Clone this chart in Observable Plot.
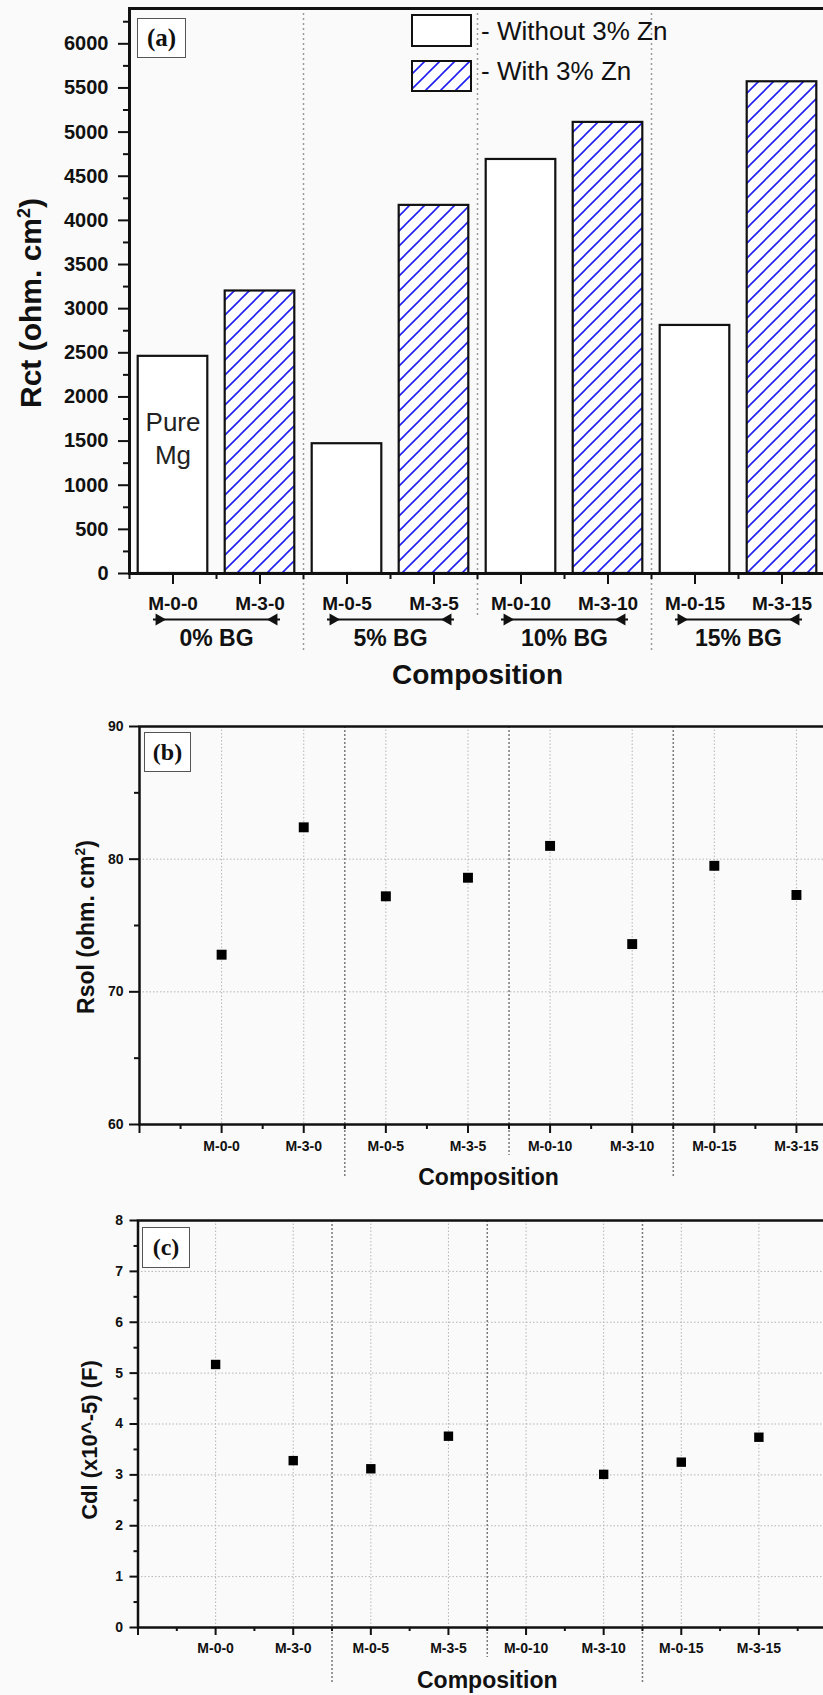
<!DOCTYPE html>
<html><head><meta charset="utf-8">
<script src="https://cdn.jsdelivr.net/npm/d3@7"></script>
<script src="https://cdn.jsdelivr.net/npm/@observablehq/plot@0.6"></script>
<style>
html,body{margin:0;padding:0;background:#fafafa;overflow:hidden;width:823px;height:1695px;}
#root{position:relative;width:823px;height:1695px;overflow:hidden;}
.panel{position:absolute;left:0;}
.ylab{position:absolute;font-family:"Liberation Sans",Arial,sans-serif;font-weight:bold;white-space:nowrap;transform:translate(-50%,-50%) rotate(-90deg);color:#111;}
.ylab sup{font-size:60%;}
.tag{position:absolute;border:1.5px solid #555;background:#fff;font-family:"Liberation Serif","Times New Roman",serif;font-weight:bold;display:flex;align-items:center;justify-content:center;box-sizing:border-box;color:#111;}
.legtxt{position:absolute;font-family:"Liberation Sans",Arial,sans-serif;font-size:26px;white-space:nowrap;transform:translateY(-50%);color:#111;}
.legbox{position:absolute;}
</style>
</head><body>
<svg width="0" height="0" style="position:absolute">
  <defs>
    <pattern id="hatchA" patternUnits="userSpaceOnUse" width="15" height="15">
      <rect width="15" height="15" fill="white"/>
      <path d="M-2,2 L2,-2 M0,15 L15,0 M13,17 L17,13" stroke="#1f1ff0" stroke-width="1.6"/>
    </pattern>
  </defs>
</svg>
<div id="root"></div>
<script>
// ---------------- data ----------------
const compositions = ["M-0-0","M-3-0","M-0-5","M-3-5","M-0-10","M-3-10","M-0-15","M-3-15"];
const zinc = ["Without","With","Without","With","Without","With","Without","With"];
const rct = [2460, 3200, 1470, 4170, 4690, 5110, 2810, 5570];
const rsol = [72.8, 82.4, 77.2, 78.6, 81.0, 73.6, 79.5, 77.3];
const cdl = [5.17, 3.28, 3.12, 3.76, null, 3.01, 3.25, 3.74];
const groups = ["0% BG","5% BG","10% BG","15% BG"];
const rctTicks = [0,500,1000,1500,2000,2500,3000,3500,4000,4500,5000,5500,6000];
const rctMinor = [250,750,1250,1750,2250,2750,3250,3750,4250,4750,5250,5750,6250];
const rsolTicks = [60,70,80,90];
const rsolMinor = [65,75,85];
const cdlTicks = [0,1,2,3,4,5,6,7,8];
const cdlMinor = [0.5,1.5,2.5,3.5,4.5,5.5,6.5,7.5];
const annotations = [{comp:"M-0-0", text:"Pure\nMg", rct:1550}];

// ---------------- derived tables ----------------
const rows = compositions.map((c,i)=>({pos:i+1, name:c, zn:zinc[i], rct:rct[i], rsol:rsol[i], cdl:cdl[i]}));
const positions = rows.map(d=>d.pos);
const halfPos = [0, ...positions].map(p=>p+0.5);
const groupRows = groups.map((g,i)=>({label:g, center:2*i+1.5}));
const outerBounds = [groupRows[0].center+1, groupRows[2].center+1];
const innerBounds = [groupRows[1].center+1];
const annRows = annotations.map(a=>({...a, pos: compositions.indexOf(a.comp)+1}));
const fmtName = p => compositions[p-1] ?? "";
const plain = d => String(d);

const FONT = '"Liberation Sans", Arial, sans-serif';
const W = 840;
const baseStyle = {background:"transparent", overflow:"visible", maxWidth:"none", fontFamily:FONT, color:"#111"};
const root = document.getElementById("root");
function place(el, top){ el.classList.add("panel"); el.style.top = top+"px"; root.appendChild(el); }

// ---------------- panel (a) ----------------
const pa = Plot.plot({
  width: W, height: 690,
  marginLeft: 129, marginTop: 8, marginBottom: 117, marginRight: W-825,
  style: baseStyle,
  x: {domain:[0.5, 8.5]},
  y: {domain:[0, 6400]},
  marks: [
    Plot.ruleX(outerBounds, {x: d=>d, stroke:"#9a9a9a", strokeWidth:1.5, strokeDasharray:"2,3", insetBottom:-80}),
    Plot.ruleX(innerBounds, {x: d=>d, stroke:"#9a9a9a", strokeWidth:1.5, strokeDasharray:"2,3", insetBottom:-44}),
    Plot.rectY(rows.filter(d=>d.zn==="Without"), {x1:d=>d.pos-0.4, x2:d=>d.pos+0.4, y1:0, y2:"rct", fill:"white", stroke:"#111", strokeWidth:2.2}),
    Plot.rectY(rows.filter(d=>d.zn==="With"), {x1:d=>d.pos-0.4, x2:d=>d.pos+0.4, y1:0, y2:"rct", fill:"url(#hatchA)", stroke:"#111", strokeWidth:2.2}),
    Plot.text(annRows, {x:"pos", y:"rct", text:"text", fontSize:26, lineHeight:1.3, fill:"#222"}),
    Plot.frame({stroke:"#111", strokeWidth:3}),
    Plot.axisY({ticks:rctTicks, tickFormat:plain, tickSize:11, tickPadding:10, fontSize:20, fontWeight:"bold", strokeWidth:2, label:null}),
    Plot.axisY({ticks:rctMinor, tickSize:6, tickFormat:()=>"", strokeWidth:2, label:null}),
    Plot.axisX({ticks:positions, tickFormat:fmtName, tickSize:11, tickPadding:12, fontSize:19, fontWeight:"bold", strokeWidth:2, label:null}),
    Plot.axisX({ticks:halfPos, tickSize:6, tickFormat:()=>"", strokeWidth:2, label:null}),
    Plot.link(groupRows, {x1:d=>d.center-0.73, x2:d=>d.center+0.73, y1:0, y2:0, dy:46, stroke:"#111", strokeWidth:2, clip:false}),
    Plot.dot(groupRows, {x:d=>d.center-0.66, y:0, dy:46, symbol:"triangle", rotate:90, r:4.5, fill:"#111", stroke:"none"}),
    Plot.dot(groupRows, {x:d=>d.center+0.66, y:0, dy:46, symbol:"triangle", rotate:-90, r:4.5, fill:"#111", stroke:"none"}),
    Plot.text(groupRows, {x:"center", y:0, dy:65, text:"label", fontSize:23, fontWeight:"bold", lineAnchor:"middle"}),
    Plot.text(["Composition"], {frameAnchor:"bottom", dy:102, text:d=>d, fontSize:28, fontWeight:"bold", lineAnchor:"middle"})
  ]
});
place(pa, 0);

// ---------------- panel (b) ----------------
const pb = Plot.plot({
  width: W, height: 500,
  marginLeft: 139, marginTop: 26, marginBottom: 76, marginRight: W-837,
  style: baseStyle,
  x: {domain:[0, 8.5]},
  y: {domain:[60, 90]},
  marks: [
    Plot.ruleY([70,80], {y:d=>d, stroke:"#b5b5b5", strokeWidth:1, strokeDasharray:"1.5,2"}),
    Plot.ruleX(positions, {x:d=>d, stroke:"#b5b5b5", strokeWidth:1, strokeDasharray:"1.5,2"}),
    Plot.ruleX(outerBounds, {x:d=>d, stroke:"#7a7a7a", strokeWidth:1.5, strokeDasharray:"2,2", insetBottom:-53}),
    Plot.ruleX(innerBounds, {x:d=>d, stroke:"#7a7a7a", strokeWidth:1.5, strokeDasharray:"2,2", insetBottom:-31}),
    Plot.frame({stroke:"#111", strokeWidth:2.5}),
    Plot.axisY({ticks:rsolTicks, tickFormat:plain, tickSize:10, tickPadding:6, fontSize:14, fontWeight:"bold", strokeWidth:2, label:null}),
    Plot.axisY({ticks:rsolMinor, tickSize:5, tickFormat:()=>"", strokeWidth:2, label:null}),
    Plot.axisX({ticks:[0, ...positions], tickFormat:fmtName, tickSize:9, tickPadding:8, fontSize:14, fontWeight:"bold", strokeWidth:2, label:null}),
    Plot.axisX({ticks:halfPos, tickSize:5, tickFormat:()=>"", strokeWidth:2, label:null}),
    Plot.dot(rows, {x:"pos", y:"rsol", symbol:"square", r:5.6, fill:"#000", stroke:"none"}),
    Plot.text(["Composition"], {frameAnchor:"bottom", dy:53, text:d=>d, fontSize:23, fontWeight:"bold", lineAnchor:"middle"})
  ]
});
place(pb, 700);

// ---------------- panel (c) ----------------
const pc = Plot.plot({
  width: W, height: 495,
  marginLeft: 137.5, marginTop: 20, marginBottom: 68, marginRight: W-836,
  style: baseStyle,
  x: {domain:[0, 9]},
  y: {domain:[0, 8]},
  marks: [
    Plot.ruleY([1,2,3,4,5,6,7], {y:d=>d, stroke:"#b5b5b5", strokeWidth:1, strokeDasharray:"1.5,2"}),
    Plot.ruleX(positions, {x:d=>d, stroke:"#b5b5b5", strokeWidth:1, strokeDasharray:"1.5,2"}),
    Plot.ruleX(outerBounds, {x:d=>d, stroke:"#7a7a7a", strokeWidth:1.5, strokeDasharray:"2,2", insetBottom:-55}),
    Plot.ruleX(innerBounds, {x:d=>d, stroke:"#7a7a7a", strokeWidth:1.5, strokeDasharray:"2,2", insetBottom:-30}),
    Plot.frame({stroke:"#111", strokeWidth:2.5}),
    Plot.axisY({ticks:cdlTicks, tickFormat:plain, tickSize:8, tickPadding:7, fontSize:14, fontWeight:"bold", strokeWidth:2, label:null}),
    Plot.axisY({ticks:cdlMinor, tickSize:4, tickFormat:()=>"", strokeWidth:2, label:null}),
    Plot.axisX({ticks:[0, ...positions], tickFormat:fmtName, tickSize:8, tickPadding:8, fontSize:14, fontWeight:"bold", strokeWidth:2, label:null}),
    Plot.axisX({ticks:halfPos, tickSize:4, tickFormat:()=>"", strokeWidth:2, label:null}),
    Plot.dot(rows.filter(d=>d.cdl!=null), {x:"pos", y:"cdl", symbol:"square", r:5.3, fill:"#000", stroke:"none"}),
    Plot.text(["Composition"], {frameAnchor:"bottom", dy:53, text:d=>d, fontSize:23, fontWeight:"bold", lineAnchor:"middle"})
  ]
});
place(pc, 1200);

// ---------------- overlays: y labels, tags, legend ----------------
function addHTML(html){ const t=document.createElement("template"); t.innerHTML=html.trim(); const el=t.content.firstChild; root.appendChild(el); return el; }
addHTML('<div class="ylab" style="left:31px;top:303px;font-size:30px">Rct (ohm. cm<sup>2</sup>)</div>');
addHTML('<div class="ylab" style="left:86px;top:927px;font-size:23px">Rsol (ohm. cm<sup>2</sup>)</div>');
addHTML('<div class="ylab" style="left:90px;top:1440px;font-size:22px">Cdl (x10^-5) (F)</div>');
addHTML('<div class="tag" style="left:137px;top:18px;width:49px;height:40px;font-size:25px">(a)</div>');
addHTML('<div class="tag" style="left:144px;top:732px;width:47px;height:40px;font-size:24px">(b)</div>');
addHTML('<div class="tag" style="left:142px;top:1227px;width:48px;height:41px;font-size:24px">(c)</div>');
addHTML('<svg class="legbox" style="left:411px;top:14px" width="62" height="34"><rect x="1" y="1" width="59" height="31" fill="white" stroke="#111" stroke-width="2"/></svg>');
addHTML('<svg class="legbox" style="left:411px;top:60px" width="62" height="33"><rect x="1" y="1" width="59" height="30" fill="url(#hatchA)" stroke="#111" stroke-width="2"/></svg>');
addHTML('<div class="legtxt" style="left:481px;top:31px">- Without 3% Zn</div>');
addHTML('<div class="legtxt" style="left:481px;top:71px">- With 3% Zn</div>');
</script>
</body></html>
